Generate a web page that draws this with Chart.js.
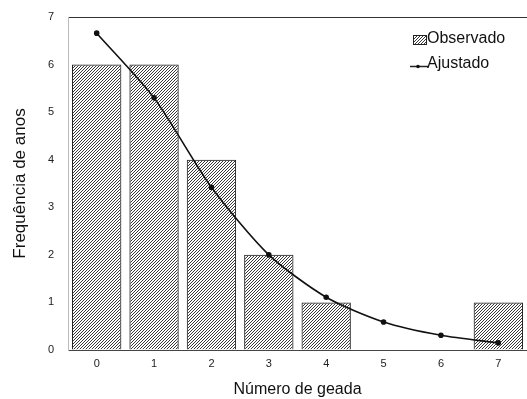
<!DOCTYPE html>
<html>
<head>
<meta charset="utf-8">
<script src="https://cdn.jsdelivr.net/npm/chart.js@4/dist/chart.umd.min.js"></script>
<style>
  html, body { margin: 0; padding: 0; background: #fff; overflow: hidden; }
  #wrap { width: 527px; height: 399px; position: relative; }
</style>
</head>
<body>
<div id="wrap"><canvas id="c1"></canvas></div>
<script>
  // dados
  var categories = ['0', '1', '2', '3', '4', '5', '6', '7']
  var observado = [6, 6, 4, 2, 1, 0, 0, 1]
  var ajustado = [6.66, 5.3, 3.42, 2.0, 1.11, 0.59, 0.31, 0.15]
  var yTicks = [0, 1, 2, 3, 4, 5, 6, 7]

  // a linha não deve reservar margem extra à direita
  var LineCtrl = Chart.registry.getController('line')
  if (LineCtrl) LineCtrl.prototype.getMaxOverflow = function() { return 0 }

  function hatch() {
    var c = document.createElement('canvas')
    c.width = 3
    c.height = 3
    var x = c.getContext('2d')
    x.strokeStyle = '#222'
    x.lineWidth = 0.9
    x.beginPath()
    x.moveTo(0, 3); x.lineTo(3, 0)
    x.moveTo(-1, 1); x.lineTo(1, -1)
    x.moveTo(2, 4); x.lineTo(4, 2)
    x.stroke()
    return x.createPattern(c, 'repeat')
  }
  var pattern = hatch()

  // legenda desenhada dentro da área do gráfico
  var legendPlugin = {
    id: 'innerLegend',
    afterDraw: function(chart) {
      var ctx = chart.ctx
      ctx.save()
      ctx.fillStyle = pattern
      ctx.fillRect(413, 35, 13, 9)
      ctx.strokeStyle = '#222'
      ctx.lineWidth = 1
      ctx.strokeRect(413.5, 35.5, 13, 9)
      ctx.beginPath()
      ctx.moveTo(410, 66.5); ctx.lineTo(428, 66.5)
      ctx.lineWidth = 1.5
      ctx.stroke()
      ctx.beginPath()
      ctx.arc(418, 66.5, 1.8, 0, Math.PI * 2)
      ctx.fillStyle = '#111'
      ctx.fill()
      ctx.fillStyle = '#111'
      ctx.font = '16px Arial, "Liberation Sans", sans-serif'
      ctx.textBaseline = 'middle'
      ctx.fillText('Observado', 427, 39)
      ctx.fillText('Ajustado', 427, 64)
      ctx.restore()
    }
  }

  var tickFont = { family: 'Arial, "Liberation Sans", sans-serif', size: 11 }

  var ctx = document.getElementById('c1')
  var chart1 = new Chart(ctx, {
    type: 'bar',
    data: {
      labels: categories,
      datasets: [{
        type: 'line',
        label: 'Ajustado',
        data: ajustado,
        borderColor: '#111',
        backgroundColor: '#111',
        borderWidth: 1.6,
        pointRadius: 2,
        pointHoverRadius: 2,
        tension: 0.25,
        fill: false,
        clip: false,
        order: 0
      }, {
        label: 'Observado',
        data: observado,
        backgroundColor: pattern,
        borderColor: '#222',
        borderWidth: 1,
        barPercentage: 0.86,
        categoryPercentage: 1,
        order: 1
      }]
    },
    plugins: [legendPlugin],
    options: {
      responsive: true,
      maintainAspectRatio: false,
      animation: false,
      layout: { padding: { top: 17, right: 0, left: 0, bottom: 0 } },
      plugins: {
        legend: { display: false },
        tooltip: { enabled: false }
      },
      scales: {
        x: {
          offset: true,
          grid: { display: false, drawTicks: false },
          border: { display: true, color: '#444', width: 1 },
          ticks: { color: '#222', font: tickFont, padding: 7 },
          title: { display: true, text: 'Número de geada', color: '#111', font: { family: 'Arial, "Liberation Sans", sans-serif', size: 16 }, padding: { top: 8, bottom: 0 } },
          afterFit: function(s) {
            s.height = 49
            s.paddingLeft = 0
            s.paddingRight = 0
          }
        },
        y: {
          min: 0,
          max: 7,
          afterBuildTicks: function(s) {
            s.ticks = yTicks.map(function(v) { return { value: v } })
          },
          grid: {
            drawTicks: false,
            color: function(c) { return c.tick && c.tick.value === 7 ? '#333' : 'rgba(0,0,0,0)' }
          },
          border: { display: true, color: '#bbb', width: 1 },
          ticks: { color: '#222', font: tickFont, padding: 14 },
          title: { display: true, text: 'Frequência de anos', color: '#111', font: { family: 'Arial, "Liberation Sans", sans-serif', size: 17 }, padding: { top: 10, bottom: 0 } },
          afterFit: function(s) {
            s.width = 68
            s.paddingTop = 0
            s.paddingBottom = 0
          }
        }
      }
    }
  })
</script>
</body>
</html>
